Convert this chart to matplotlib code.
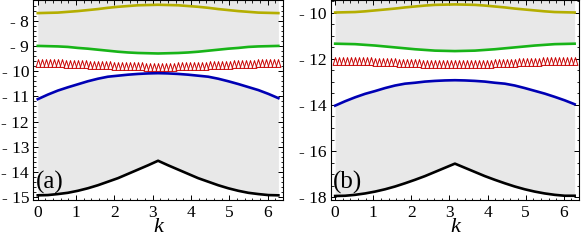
import numpy as np
import matplotlib.pyplot as plt
from matplotlib.ticker import MultipleLocator, FuncFormatter

plt.rcParams['font.family'] = ['Liberation Serif', 'DejaVu Serif']

# k grid used for the bands (0 .. 2pi, step pi/12)
k = np.linspace(0, 2 * np.pi, 25)
# k grid for the triangle markers
k_tri = np.linspace(0, 2 * np.pi, 61)

# ---- panel (a) ----
yellow_a = [-7.70, -7.69, -7.68, -7.65, -7.62, -7.58, -7.54, -7.49, -7.45, -7.42, -7.39, -7.38, -7.37,
            -7.38, -7.39, -7.42, -7.45, -7.49, -7.54, -7.58, -7.62, -7.65, -7.68, -7.69, -7.70]
green_a = [-9.00, -9.01, -9.02, -9.04, -9.08, -9.11, -9.15, -9.19, -9.23, -9.26, -9.28, -9.29, -9.30,
           -9.29, -9.28, -9.26, -9.23, -9.19, -9.15, -9.11, -9.08, -9.04, -9.02, -9.01, -9.00]
red_a = [-9.80, -9.80, -9.81, -9.82, -9.84, -9.85, -9.87, -9.89, -9.91, -9.92, -9.93, -9.94, -9.94,
         -9.94, -9.93, -9.92, -9.91, -9.89, -9.87, -9.85, -9.84, -9.83, -9.82, -9.81, -9.81]
blue_a = [-11.11, -10.93, -10.77, -10.64, -10.52, -10.40, -10.30, -10.22, -10.18, -10.14, -10.11, -10.09, -10.08,
          -10.09, -10.11, -10.14, -10.18, -10.22, -10.30, -10.40, -10.51, -10.63, -10.75, -10.90, -11.07]
black_a = [-14.92, -14.91, -14.87, -14.82, -14.74, -14.64, -14.52, -14.38, -14.24, -14.07, -13.90, -13.73, -13.55,
           -13.73, -13.90, -14.07, -14.24, -14.38, -14.52, -14.64, -14.74, -14.82, -14.87, -14.91, -14.92]
tri_a = [-9.68, -9.68, -9.68, -9.68, -9.69, -9.69, -9.69, -9.70, -9.70, -9.71, -9.72,
         -9.72, -9.73, -9.74, -9.74, -9.75, -9.76, -9.76, -9.77, -9.78, -9.79,
         -9.79, -9.80, -9.80, -9.81, -9.81, -9.81, -9.82, -9.82, -9.82, -9.82,
         -9.82, -9.82, -9.82, -9.82, -9.81, -9.81, -9.81, -9.80, -9.80, -9.79,
         -9.79, -9.78, -9.77, -9.76, -9.76, -9.75, -9.74, -9.74, -9.73, -9.72,
         -9.72, -9.71, -9.70, -9.70, -9.69, -9.69, -9.69, -9.68, -9.68, -9.68]

# ---- panel (b) ----
yellow_b = [-10.00, -9.99, -9.98, -9.95, -9.91, -9.87, -9.83, -9.78, -9.74, -9.70, -9.67, -9.66, -9.65,
            -9.66, -9.67, -9.70, -9.74, -9.78, -9.83, -9.87, -9.91, -9.95, -9.98, -9.99, -10.00]
green_b = [-11.35, -11.36, -11.37, -11.40, -11.43, -11.47, -11.51, -11.55, -11.59, -11.62, -11.65, -11.66, -11.67,
           -11.66, -11.65, -11.62, -11.59, -11.55, -11.51, -11.47, -11.43, -11.40, -11.37, -11.36, -11.35]
red_b = [-12.22, -12.22, -12.23, -12.24, -12.26, -12.27, -12.29, -12.31, -12.33, -12.34, -12.35, -12.36, -12.36,
         -12.36, -12.35, -12.34, -12.33, -12.31, -12.29, -12.27, -12.26, -12.24, -12.23, -12.22, -12.22]
blue_b = [-14.03, -13.84, -13.67, -13.52, -13.40, -13.27, -13.16, -13.08, -13.04, -12.99, -12.96, -12.94, -12.93,
          -12.94, -12.96, -12.99, -13.04, -13.08, -13.16, -13.27, -13.39, -13.51, -13.65, -13.80, -13.97]
black_b = [-17.94, -17.93, -17.89, -17.83, -17.75, -17.65, -17.53, -17.39, -17.24, -17.08, -16.90, -16.72, -16.54,
           -16.72, -16.90, -17.08, -17.24, -17.39, -17.53, -17.65, -17.75, -17.83, -17.89, -17.93, -17.93]
tri_b = [-12.09, -12.09, -12.09, -12.09, -12.10, -12.10, -12.10, -12.11, -12.11, -12.12, -12.13,
         -12.13, -12.14, -12.15, -12.15, -12.16, -12.17, -12.17, -12.18, -12.19, -12.20,
         -12.20, -12.21, -12.21, -12.22, -12.22, -12.22, -12.23, -12.23, -12.23, -12.23,
         -12.23, -12.23, -12.23, -12.23, -12.22, -12.22, -12.22, -12.21, -12.21, -12.20,
         -12.20, -12.19, -12.18, -12.17, -12.17, -12.16, -12.15, -12.15, -12.14, -12.13,
         -12.13, -12.12, -12.11, -12.11, -12.10, -12.10, -12.10, -12.09, -12.09, -12.09]

x_ticks = [0, 1, 2, 3, 4, 5, 6]

YELLOW = '#b4ae00'
GREEN = '#18b418'
RED = '#c80000'
BLUE = '#0000b4'
GRAY = '#e8e8e8'

tri_marker = [(0, 1), (-0.62, -1), (0.62, -1), (0, 1)]


def panel(ax, yellow, green, red, tri, blue, black, ylim, major, minor, label):
    ax.set_xlim(-0.12, 6.40)
    ax.set_ylim(*ylim)
    top = ylim[1]
    ax.fill_between(k, green, top, color=GRAY, lw=0, zorder=0)
    ax.fill_between(k, black, blue, color=GRAY, lw=0, zorder=0)
    ax.plot(k, yellow, color=YELLOW, lw=1.9)
    ax.plot(k, green, color=GREEN, lw=1.9)
    ax.plot(k, red, color=RED, lw=1.3)
    ax.plot(k_tri, tri, ls='none', marker=tri_marker, ms=5.6, mfc='white',
            mec=RED, mew=0.7)
    ax.plot(k, blue, color=BLUE, lw=1.9)
    ax.plot(k, black, color='black', lw=1.9)

    ax.set_xticks(x_ticks)
    ax.xaxis.set_minor_locator(MultipleLocator(0.2))
    ax.yaxis.set_major_locator(MultipleLocator(major))
    ax.yaxis.set_minor_locator(MultipleLocator(minor))
    ax.yaxis.set_major_formatter(FuncFormatter(lambda v, p: '- %d' % abs(round(v))))
    ax.tick_params(which='both', direction='in', top=True, right=True,
                   labelsize=12.5, pad=3)
    ax.tick_params(which='major', length=3.5, width=0.7)
    ax.tick_params(which='minor', length=1.8, width=0.6)
    for s in ax.spines.values():
        s.set_linewidth(0.8)
    ax.set_xlabel('k', fontsize=16, fontstyle='italic', labelpad=-2)
    ax.text(0.01, 0.03, label, transform=ax.transAxes, fontsize=18,
            ha='left', va='bottom')


fig = plt.figure(figsize=(5.82, 2.42), dpi=100)
ax1 = fig.add_axes([0.057, 0.172, 0.429, 0.826])
ax2 = fig.add_axes([0.568, 0.172, 0.427, 0.826])

panel(ax1, yellow_a, green_a, red_a, tri_a, blue_a, black_a,
      (-15.12, -7.2), 1, 0.2, '(a)')
panel(ax2, yellow_b, green_b, red_b, tri_b, blue_b, black_b,
      (-18.13, -9.48), 2, 0.5, '(b)')

fig.savefig('out.png', dpi=100)
